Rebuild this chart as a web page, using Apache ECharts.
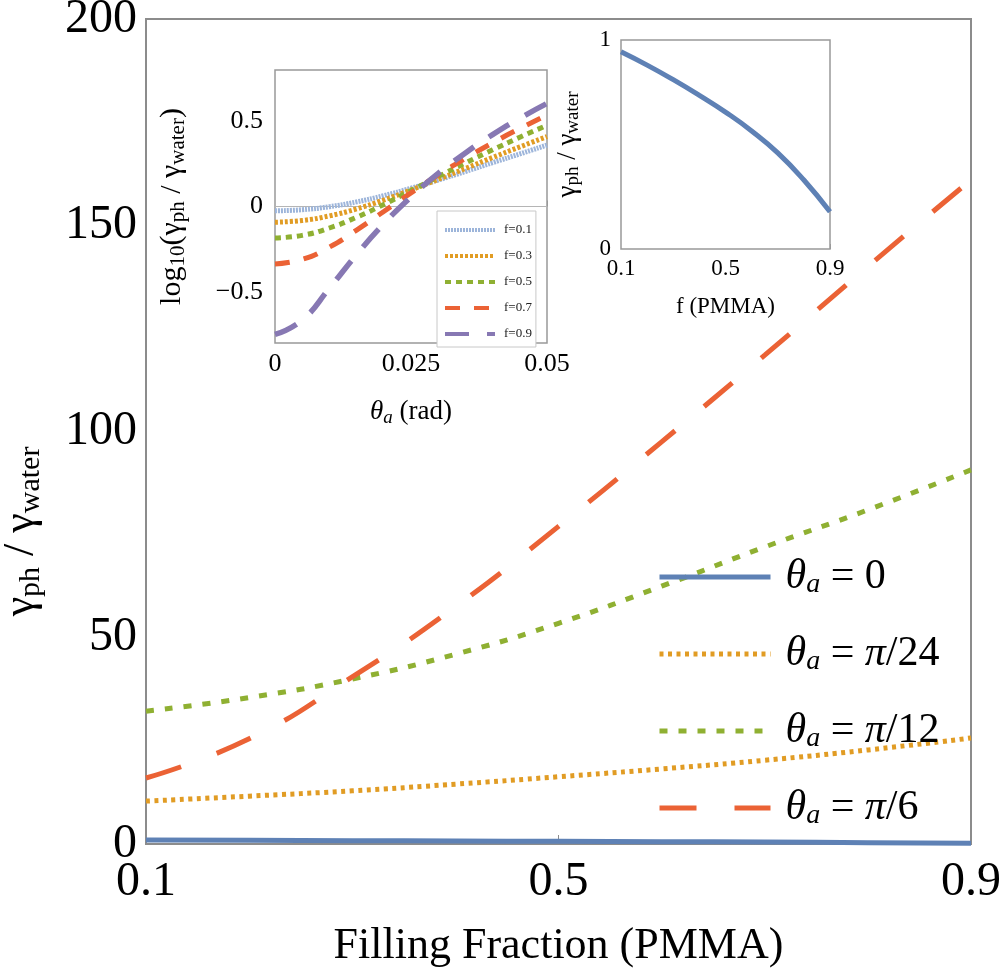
<!DOCTYPE html>
<html>
<head>
<meta charset="utf-8">
<script src="https://cdn.jsdelivr.net/npm/echarts@6/dist/echarts.min.js"></script>
<style>
html,body{margin:0;padding:0;background:#fff;}
#c{width:1002px;height:970px;}
</style>
</head>
<body>
<div id="c"></div>
<script>
// ---------- main chart data ----------
const fillFractions = [0.1, 0.2, 0.3, 0.4, 0.5, 0.6, 0.7, 0.8, 0.9];
const mainNames = ['θa = 0', 'θa = π/24', 'θa = π/12', 'θa = π/6'];
const theta0   = [0.944, 0.88, 0.81, 0.735, 0.655, 0.565, 0.46, 0.33, 0.178];
const thetaP24 = [10.4, 11.6, 12.9, 14.5, 16.3, 18.2, 20.3, 22.8, 25.7];
const thetaP12 = [32.2, 35.5, 40.0, 46.0, 53.5, 62.5, 72.0, 81.0, 90.7];
const thetaP6  = [16.0, 25.5, 40.5, 57.5, 77.0, 97.5, 118.5, 140.0, 161.0];
const mainXTicks = ['0.1', '0.5', '0.9'];
const mainYTicks = ['0', '50', '100', '150', '200'];

// ---------- inset 1 data: log10(gamma ratio) vs theta ----------
const thetaRad = [0, 0.005, 0.01, 0.015, 0.02, 0.025, 0.03, 0.035, 0.04, 0.045, 0.05];
const insetNames = ['f=0.1', 'f=0.3', 'f=0.5', 'f=0.7', 'f=0.9'];
const logF01 = [-0.025, -0.019, -0.001, 0.027, 0.064, 0.107, 0.155, 0.205, 0.257, 0.308, 0.360];
const logF03 = [-0.092, -0.082, -0.055, -0.014, 0.038, 0.097, 0.159, 0.223, 0.287, 0.349, 0.410];
const logF05 = [-0.184, -0.169, -0.126, -0.063, 0.012, 0.093, 0.175, 0.255, 0.332, 0.406, 0.476];
const logF07 = [-0.337, -0.310, -0.238, -0.138, -0.029, 0.080, 0.185, 0.282, 0.373, 0.457, 0.535];
const logF09 = [-0.750, -0.665, -0.479, -0.281, -0.101, 0.056, 0.194, 0.314, 0.421, 0.517, 0.604];
const insetZeroLine = [[0, 0], [0.05, 0]];

// ---------- inset 2 data: ratio at theta = 0 ----------
const insetFF = [0.1, 0.2, 0.3, 0.4, 0.5, 0.6, 0.7, 0.8, 0.9];
const insetRatio = [0.944, 0.88, 0.81, 0.735, 0.655, 0.565, 0.46, 0.33, 0.178];

const FONT = 'Liberation Serif';
const C = {blue:'#5E81B5', orange:'#E19C24', green:'#8FB032', red:'#EB6235', purple:'#8778B3', lblue:'#9DB5DA'};

function pairs(xs, ys){ return xs.map((x,i)=>[x, ys[i]]); }

const chart = echarts.init(document.getElementById('c'), null, {renderer:'canvas'});

const legendRich = {
  t:{fontFamily:FONT, fontSize:42, fontStyle:'italic', color:'#000', lineHeight:44},
  r:{fontFamily:FONT, fontSize:42, color:'#000', lineHeight:44},
  s:{fontFamily:FONT, fontSize:28, fontStyle:'italic', color:'#000', lineHeight:20, verticalAlign:'bottom'}
};
function legendFmt(name){
  const rest = name.replace('θa', '');
  const m = rest.match(/^( = )(π)?(.*)$/);
  if (m && m[2]) return '{t|θ}{s|a}{r|' + m[1] + '}{t|π}{r|' + m[3] + '}';
  return '{t|θ}{s|a}{r|' + rest + '}';
}

const gammaRich = (big, small, lh, sh) => ({
  g:{fontFamily:FONT, fontSize:big, color:'#000', lineHeight:lh},
  s:{fontFamily:FONT, fontSize:small, color:'#000', lineHeight:sh, verticalAlign:'bottom'}
});

function insetYLabel(v){
  const r = Math.round(v*10)/10;
  if (Math.abs(r-0.5)<1e-6) return '0.5';
  if (Math.abs(r)<1e-6) return '0';
  if (Math.abs(r+0.5)<1e-6) return '\u22120.5';
  return '';
}

const option = {
  backgroundColor:'#fff',
  animation:false,
  grid:[
    {left:146, top:19, width:825, height:825, show:true, borderColor:'#8c8c8c', borderWidth:2, backgroundColor:'#fff', outerBoundsMode:'none', containLabel:false},
    {left:275, top:70, width:272, height:273, show:true, borderColor:'#999', borderWidth:1.5, backgroundColor:'#fff', z:10, outerBoundsMode:'none', containLabel:false},
    {left:621, top:40, width:209, height:209, show:true, borderColor:'#999', borderWidth:1.5, backgroundColor:'#fff', z:10, outerBoundsMode:'none', containLabel:false}
  ],
  xAxis:[
    {gridIndex:0, type:'value', min:0.1, max:0.9, interval:0.4,
     axisLine:{show:false}, splitLine:{show:false},
     axisTick:{show:true, inside:true, length:9, lineStyle:{color:'#8c8c8c', width:1}},
     axisLabel:{fontFamily:FONT, fontSize:48, color:'#000', margin:14,
       formatter:v=>{const s=v.toFixed(1); return mainXTicks.includes(s)?s:'';}},
     name:'Filling Fraction (PMMA)', nameLocation:'middle', nameGap:80,
     nameTextStyle:{fontFamily:FONT, fontSize:44, color:'#000'}},
    {gridIndex:1, type:'value', min:0, max:0.05, interval:0.025,
     axisLine:{show:false}, splitLine:{show:false},
     axisTick:{show:true, inside:true, length:6, lineStyle:{color:'#999'}},
     axisLabel:{fontFamily:FONT, fontSize:26, color:'#000', margin:8,
       formatter:v=>v===0?'0':String(+v.toFixed(3))},
     name:'{i|θ}{s|a}{r| (rad)}', nameLocation:'middle', nameGap:54,
     nameTextStyle:{rich:{
       i:{fontFamily:FONT, fontSize:27, fontStyle:'italic', color:'#000', lineHeight:30},
       r:{fontFamily:FONT, fontSize:27, color:'#000', lineHeight:30},
       s:{fontFamily:FONT, fontSize:19, fontStyle:'italic', color:'#000', lineHeight:14, verticalAlign:'bottom'}}}},
    {gridIndex:2, type:'value', min:0.1, max:0.9, interval:0.4,
     axisLine:{show:false}, splitLine:{show:false},
     axisTick:{show:true, inside:true, length:5, lineStyle:{color:'#999'}},
     axisLabel:{fontFamily:FONT, fontSize:23, color:'#000', margin:8,
       formatter:v=>v.toFixed(1)},
     name:'f (PMMA)', nameLocation:'middle', nameGap:46,
     nameTextStyle:{fontFamily:FONT, fontSize:23, color:'#000'}}
  ],
  yAxis:[
    {gridIndex:0, type:'value', min:0, max:200, interval:50,
     axisLine:{show:false}, splitLine:{show:false},
     axisTick:{show:false},
     axisLabel:{fontFamily:FONT, fontSize:48, color:'#000', margin:9,
       formatter:v=>{const s=String(v); return mainYTicks.includes(s)?s:'';}},
     name:'{g|γ}{s|ph}{g| / γ}{s|water}', nameLocation:'middle', nameGap:100, nameRotate:90,
     nameTextStyle:{rich:gammaRich(44, 30, 50, 22), padding:[0,200,0,0]}},
    {gridIndex:1, type:'value', min:-0.8, max:0.8, interval:0.1,
     axisLine:{show:false}, splitLine:{show:false},
     axisTick:{show:false},
     axisLabel:{fontFamily:FONT, fontSize:26, color:'#000', margin:12, formatter:insetYLabel},
     name:'{g|log}{s|10}{g|(γ}{s|ph}{g| / γ}{s|water}{g|)}', nameLocation:'middle', nameGap:86, nameRotate:90,
     nameTextStyle:{rich:gammaRich(30, 21, 34, 16)}},
    {gridIndex:2, type:'value', min:0, max:1, interval:1,
     axisLine:{show:false}, splitLine:{show:false},
     axisTick:{show:false},
     axisLabel:{fontFamily:FONT, fontSize:23, color:'#000', margin:10},
     name:'{g|γ}{s|ph}{g| / γ}{s|water}', nameLocation:'middle', nameGap:38, nameRotate:90,
     nameTextStyle:{rich:gammaRich(27, 19, 30, 14)}}
  ],
  legend:[
    {data:mainNames, orient:'vertical', left:657, top:556, padding:0, itemWidth:111, itemHeight:14, itemGap:34,
     formatter:legendFmt, textStyle:{rich:legendRich, padding:[0,0,0,10]},
     itemStyle:{opacity:0, borderWidth:0}, lineStyle:{width:5},
     selectedMode:false},
    {data:insetNames, orient:'vertical', left:437, top:211, itemWidth:50, itemHeight:10, itemGap:12,
     backgroundColor:'#fff', borderColor:'#c8c8c8', borderWidth:1, padding:[12,4,6,6], z:20,
     itemStyle:{opacity:0, borderWidth:0}, lineStyle:{width:4},
     textStyle:{fontFamily:FONT, fontSize:13, color:'#222', lineHeight:14, padding:[0,0,0,4]},
     selectedMode:false}
  ],
  series:[
    {name:mainNames[0], type:'line', xAxisIndex:0, yAxisIndex:0, data:pairs(fillFractions, theta0),
     smooth:true, showSymbol:false, symbol:'none', lineStyle:{color:C.blue, width:5}, itemStyle:{color:C.blue}, z:3},
    {name:mainNames[1], type:'line', xAxisIndex:0, yAxisIndex:0, data:pairs(fillFractions, thetaP24),
     smooth:true, showSymbol:false, symbol:'none', lineStyle:{color:C.orange, width:5, type:[4,4.5], cap:'butt'}, itemStyle:{color:C.orange}, z:3},
    {name:mainNames[2], type:'line', xAxisIndex:0, yAxisIndex:0, data:pairs(fillFractions, thetaP12),
     smooth:true, showSymbol:false, symbol:'none', lineStyle:{color:C.green, width:5, type:[8,11], cap:'butt'}, itemStyle:{color:C.green}, z:3},
    {name:mainNames[3], type:'line', xAxisIndex:0, yAxisIndex:0, data:pairs(fillFractions, thetaP6),
     smooth:true, showSymbol:false, symbol:'none', lineStyle:{color:C.red, width:5, type:[37,38], cap:'butt'}, itemStyle:{color:C.red}, z:3},

    {name:'zero', type:'line', xAxisIndex:1, yAxisIndex:1, data:insetZeroLine,
     showSymbol:false, symbol:'none', silent:true, lineStyle:{color:'#b5b5b5', width:1}, z:11},
    {name:insetNames[0], type:'line', xAxisIndex:1, yAxisIndex:1, data:pairs(thetaRad, logF01),
     smooth:true, showSymbol:false, symbol:'none', lineStyle:{color:C.lblue, width:5, type:[2,1], cap:'butt'}, itemStyle:{color:C.lblue}, z:12},
    {name:insetNames[1], type:'line', xAxisIndex:1, yAxisIndex:1, data:pairs(thetaRad, logF03),
     smooth:true, showSymbol:false, symbol:'none', lineStyle:{color:C.orange, width:5, type:[3,2], cap:'butt'}, itemStyle:{color:C.orange}, z:12},
    {name:insetNames[2], type:'line', xAxisIndex:1, yAxisIndex:1, data:pairs(thetaRad, logF05),
     smooth:true, showSymbol:false, symbol:'none', lineStyle:{color:C.green, width:5, type:[6,5], cap:'butt'}, itemStyle:{color:C.green}, z:12},
    {name:insetNames[3], type:'line', xAxisIndex:1, yAxisIndex:1, data:pairs(thetaRad, logF07),
     smooth:true, showSymbol:false, symbol:'none', lineStyle:{color:C.red, width:5, type:[15,14], cap:'butt'}, itemStyle:{color:C.red}, z:12},
    {name:insetNames[4], type:'line', xAxisIndex:1, yAxisIndex:1, data:pairs(thetaRad, logF09),
     smooth:true, showSymbol:false, symbol:'none', lineStyle:{color:C.purple, width:5.5, type:[24,18], cap:'butt'}, itemStyle:{color:C.purple}, z:12},

    {name:'ratio', type:'line', xAxisIndex:2, yAxisIndex:2, data:pairs(insetFF, insetRatio),
     smooth:true, showSymbol:false, symbol:'none', lineStyle:{color:C.blue, width:5}, itemStyle:{color:C.blue}, z:12}
  ]
};
chart.setOption(option);
</script>
</body>
</html>
